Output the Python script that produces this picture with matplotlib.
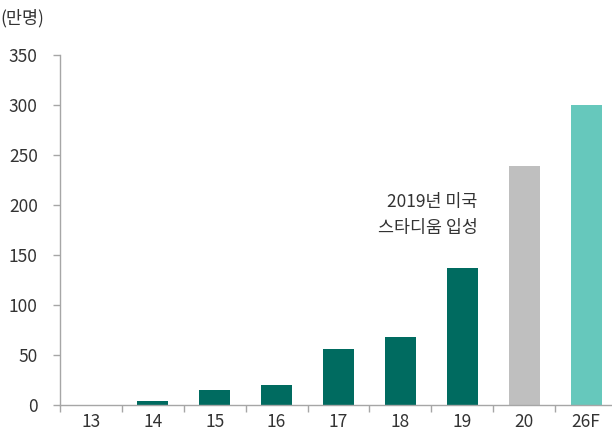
import matplotlib
matplotlib.use("Agg")
import matplotlib.pyplot as plt
import numpy as np

plt.rcParams["font.family"] = ["Noto Sans CJK KR", "DejaVu Sans"]

years = ["13", "14", "15", "16", "17", "18", "19", "20", "26F"]
values = [0, 4, 15, 20, 56, 68, 137, 239, 300]
colors = ["#006b60"] * 7 + ["#bfbfbf", "#66c8bc"]

AXIS = "#a6a6a6"
TXT = "#333333"

fig = plt.figure(figsize=(6.12, 4.32), dpi=100)
ax = fig.add_axes([60 / 612, 27 / 432, 557 / 612, 350 / 432])

x = np.arange(len(years))
ax.bar(x, values, width=0.5, color=colors)

ax.set_xlim(-0.5, len(years) - 0.5)
ax.set_ylim(0, 350)
ax.set_yticks(range(0, 351, 50))
ax.set_xticks(x)
ax.set_xticklabels(years)
ax.set_xticks(np.arange(-0.5, len(years)), minor=True)

ax.tick_params(axis="x", which="major", length=0, pad=6, labelsize=12.5, labelcolor=TXT)
ax.tick_params(axis="x", which="minor", length=5, width=1, color=AXIS, direction="out")
ax.tick_params(axis="y", length=5, width=1, color=AXIS, pad=11, labelsize=12.5, labelcolor=TXT)

for s in ["top", "right"]:
    ax.spines[s].set_visible(False)
for s in ["left", "bottom"]:
    ax.spines[s].set_color(AXIS)
    ax.spines[s].set_linewidth(1)

ax.text(6.25, 190, "2019년 미국\n스타디움 입성", ha="right", va="center",
        fontsize=12.5, color=TXT, linespacing=1.5)

fig.text(3 / 612, 432 - 18, "(만명)", ha="left", va="center",
         fontsize=12.5, color=TXT, transform=None)

fig.savefig("out.png", dpi=100)
